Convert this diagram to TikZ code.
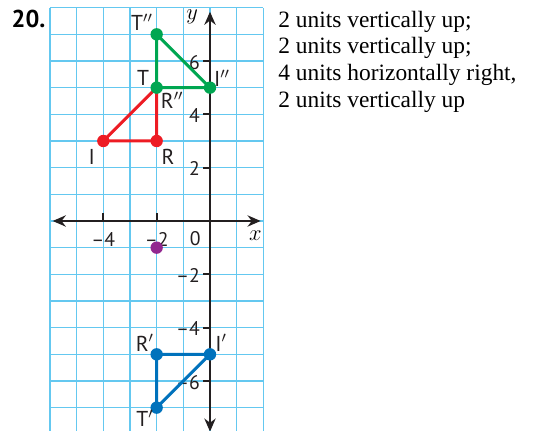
\documentclass[tikz,border=0pt]{standalone}
\usepackage{fontspec}
\setmainfont{Liberation Serif}
\setsansfont{PT Sans}
\usetikzlibrary{arrows.meta}

\definecolor{gridblue}{RGB}{100,200,240}
\definecolor{axisgray}{RGB}{35,31,32}
\definecolor{trired}{RGB}{237,28,36}
\definecolor{trigreen}{RGB}{0,166,81}
\definecolor{triblue}{RGB}{0,114,188}
\definecolor{dotpurple}{RGB}{146,39,143}

\tikzset{
  gridline/.style={gridblue, line width=0.7pt},
  axisline/.style={axisgray, line width=1.3pt},
  tickmark/.style={axisgray, line width=1.1pt},
  ticklabel/.style={font=\sffamily\fontsize{10.5}{12}\selectfont, text=axisgray, inner sep=1pt},
  ptlabel/.style={font=\sffamily\fontsize{11.5}{13}\selectfont, text=axisgray, inner sep=1pt},
  side/.style={line width=1.6pt, line join=round},
  dot/.style={circle, fill, inner sep=0pt, minimum size=6.6pt},
  note/.style={font=\fontsize{12.5}{14}\selectfont, anchor=base west, inner sep=0pt}
}

\begin{document}
\begin{tikzpicture}[x=0.5cm, y=0.5cm, >={Stealth[length=7pt,width=6pt]}]
    \useasboundingbox (-7.875,-7.875) rectangle (12.975,8.287);

    % Grid
    \foreach \gx in {-6,...,2}
        \draw[gridline] (\gx,-7.875) -- (\gx,8);
    \foreach \gy in {-7,...,8}
        \draw[gridline] (-6,\gy) -- (2,\gy);

    % Axes
    \coordinate (xl) at (-5.9,0);
    \coordinate (xr) at (1.9,0);
    \coordinate (yb) at (0,-7.9);
    \coordinate (yt) at (0,7.85);
    \draw[axisline, <->] (xl) -- (xr);
    \draw[axisline, <->] (yb) -- (yt);
    \node[font=\itshape\fontsize{12}{14}\selectfont] (xlab) at (1.7,-0.55) {$x$};
    \node[font=\itshape\fontsize{12}{14}\selectfont] (ylab) at (-0.67,7.65) {$y$};

    % Ticks
    \foreach \t in {-4,-2} {
        \draw[tickmark] (\t,0) -- (\t,0.3);
        \node[ticklabel] at (\t,-0.68) {–\the\numexpr-\t\relax};
    }
    \node[ticklabel] (zero) at (-0.55,-0.65) {0};
    \foreach \t in {6,4,2} {
        \draw[tickmark] (0,\t) -- (-0.25,\t);
        \node[ticklabel, anchor=east] at (-0.3,\t-0.05) {\t};
    }
    \foreach \t in {-2,-4,-6} {
        \draw[tickmark] (0,\t) -- (-0.25,\t);
        \node[ticklabel, anchor=east] at (-0.3,\t-0.05) {–\the\numexpr-\t\relax};
    }

    % Points
    \coordinate (I) at (-4,3);
    \coordinate (R) at (-2,3);
    \coordinate (T) at (-2,5);
    \coordinate (Tpp) at (-2,7);
    \coordinate (Ipp) at (0,5);
    \coordinate (Rp) at (-2,-5);
    \coordinate (Ip) at (0,-5);
    \coordinate (Tp) at (-2,-7);
    \coordinate (P) at (-2,-1);

    % Triangle TRI
    \draw[side, trired] (I) -- (R) -- (T) -- cycle;
    % Triangle T''R''I''
    \draw[side, trigreen] (Tpp) -- (T) -- (Ipp) -- cycle;
    % Triangle T'R'I'
    \draw[side, triblue] (Rp) -- (Ip) -- (Tp) -- cycle;

    \foreach \p in {I,R} \node[dot, trired] at (\p) {};
    \foreach \p in {T,Tpp,Ipp} \node[dot, trigreen] at (\p) {};
    \foreach \p in {Rp,Ip,Tp} \node[dot, triblue] at (\p) {};
    \node[dot, dotpurple] at (P) {};

    % Labels
    \node[ptlabel] (lI) at (-4.43,2.4) {I};
    \node[ptlabel] (lR) at (-1.57,2.4) {R};
    \node[ptlabel] (lT) at (-2.51,5.36) {T};
    \node[ptlabel] (lRpp) at (-1.42,4.54) {R$''$};
    \node[ptlabel] (lTpp) at (-2.55,7.46) {T$''$};
    \node[ptlabel] (lIpp) at (0.45,5.36) {I$''$};
    \node[ptlabel] (lRp) at (-2.44,-4.57) {R$'$};
    \node[ptlabel] (lIp) at (0.42,-4.57) {I$'$};
    \node[ptlabel] (lTp) at (-2.44,-7.4) {T$'$};

    % Exercise number and text
    \node[font=\sffamily\bfseries\fontsize{13}{15}\selectfont, anchor=base west, inner sep=0pt] (num) at (-7.45,7.27) {20.};
    \node[note] (line1) at (2.55,7.27) {2 units vertically up;};
    \node[note] (line2) at (2.55,6.27) {2 units vertically up;};
    \node[note] (line3) at (2.55,5.27) {4 units horizontally right,};
    \node[note] (line4) at (2.55,4.27) {2 units vertically up};
\end{tikzpicture}
\end{document}
